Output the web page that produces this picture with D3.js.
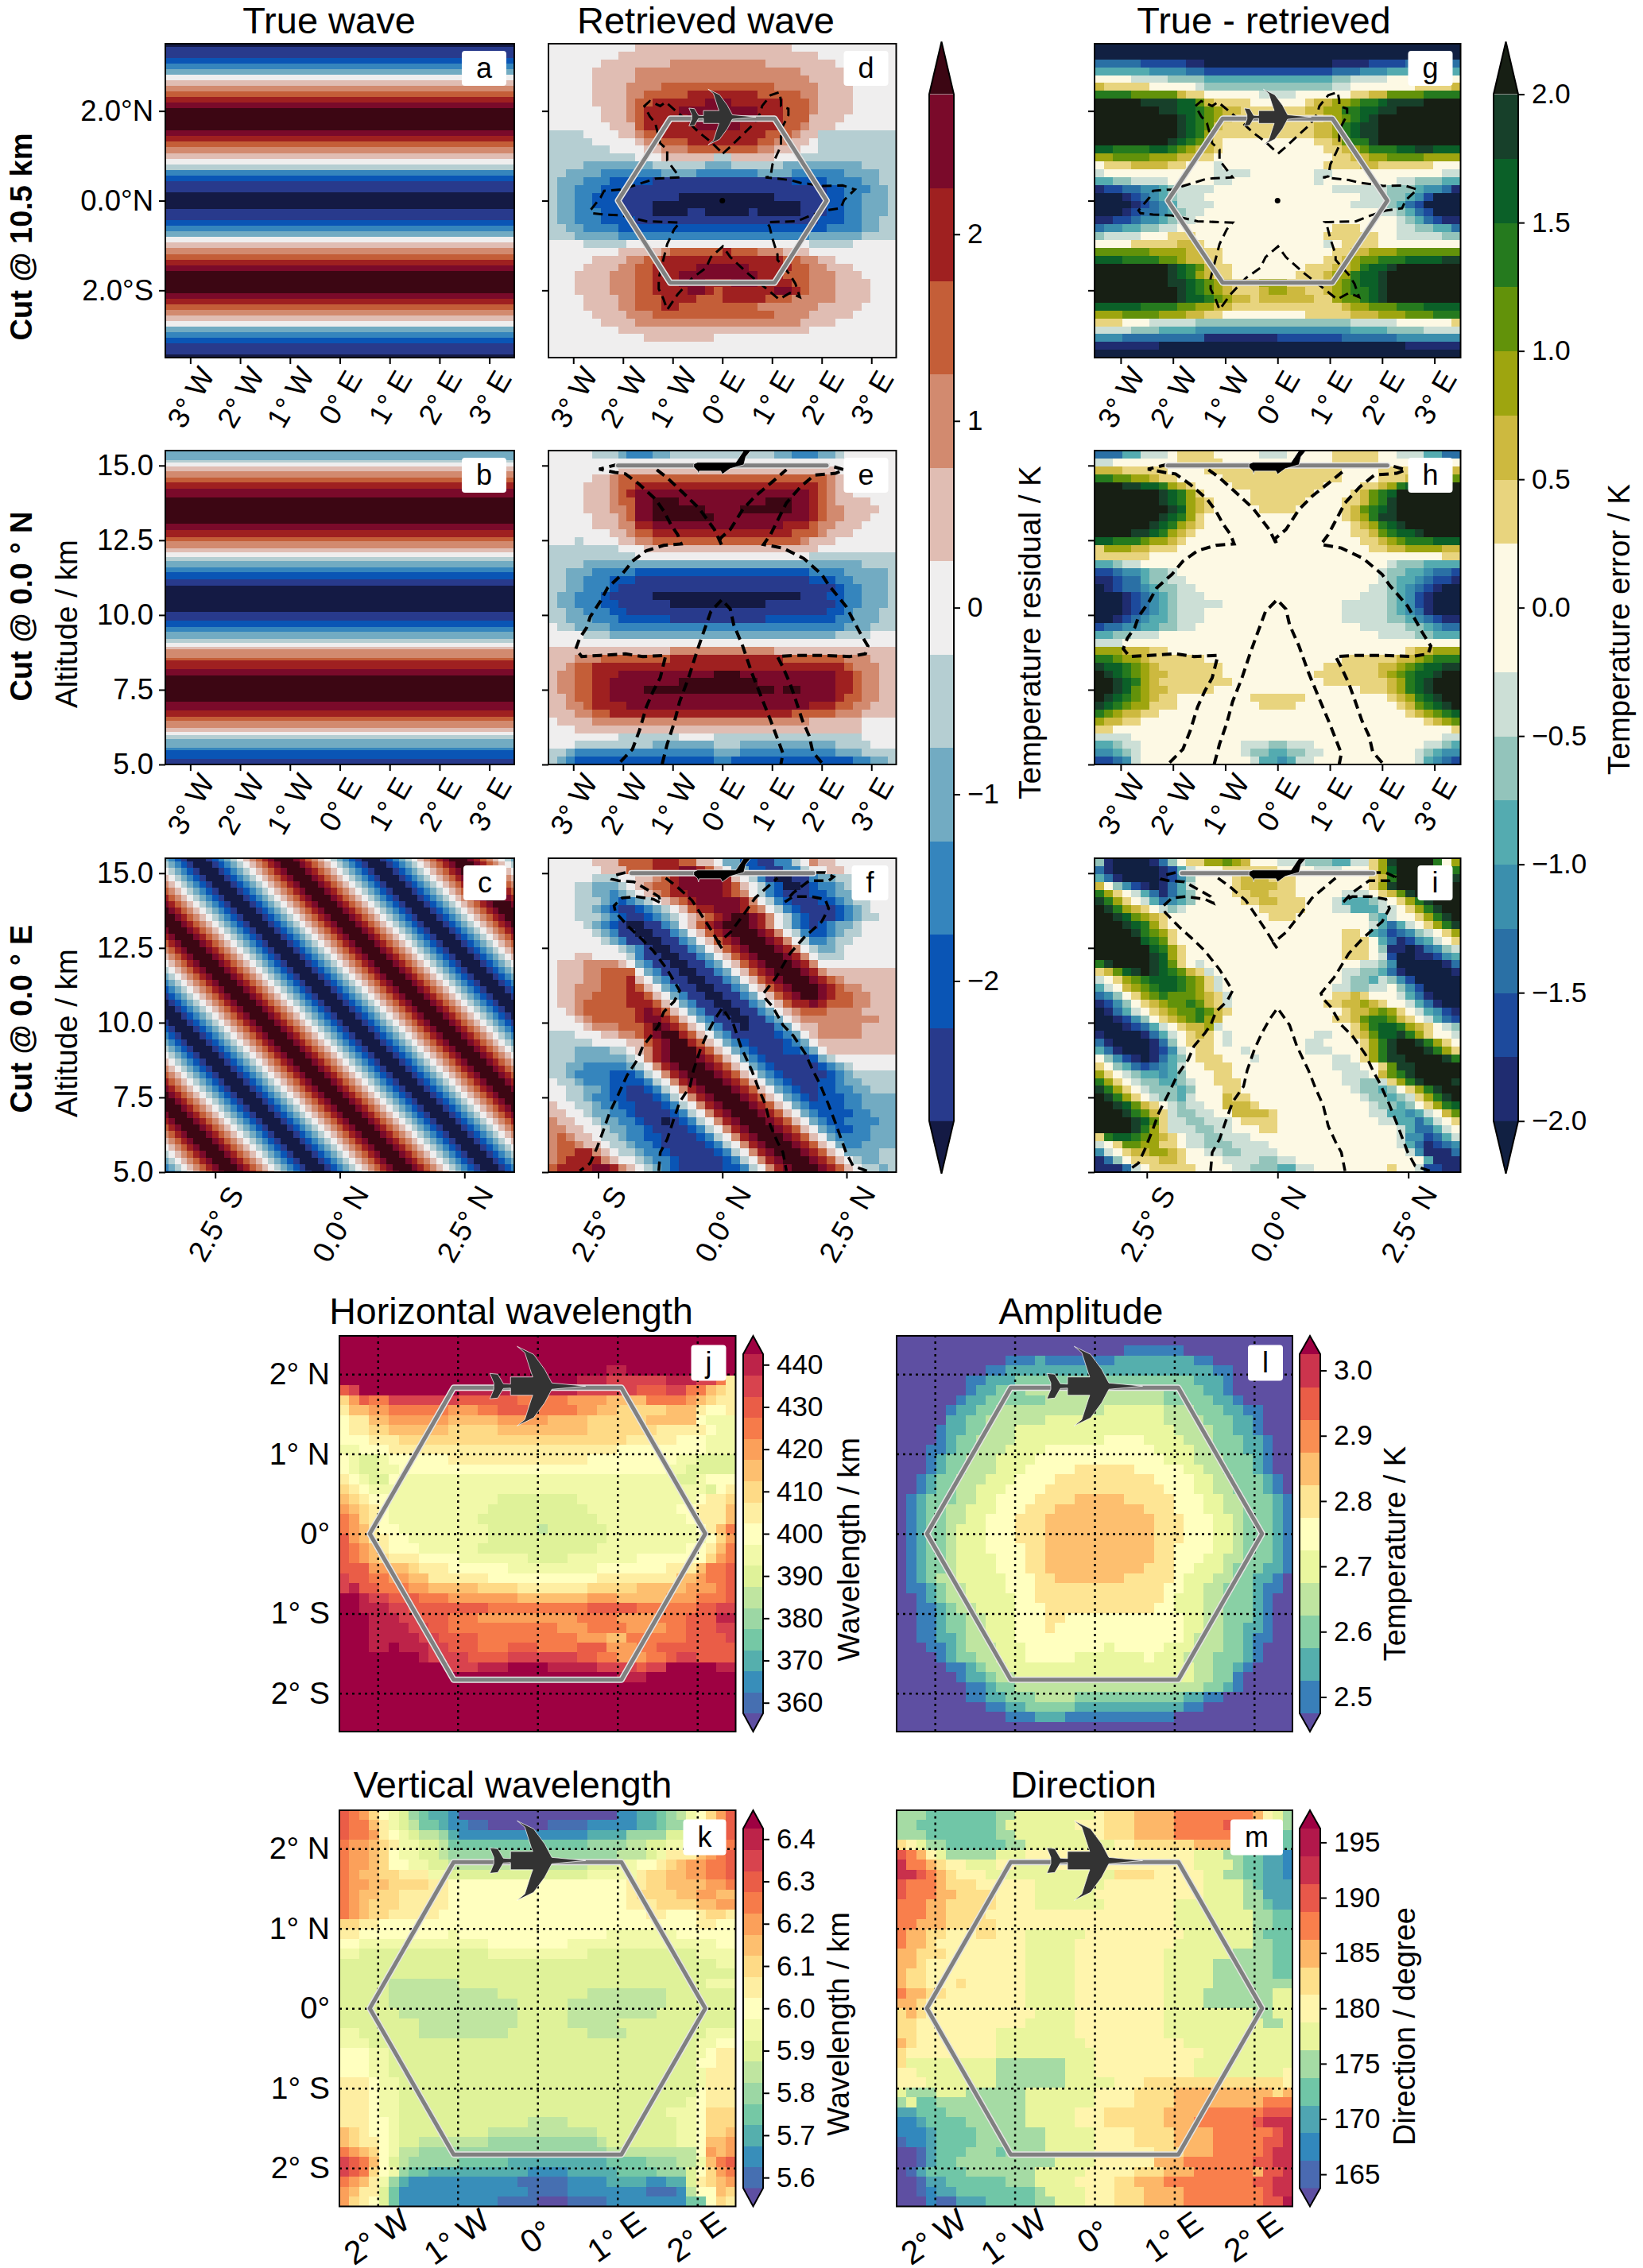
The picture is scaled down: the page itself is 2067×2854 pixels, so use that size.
<!DOCTYPE html>
<html>
<head>
<meta charset="utf-8">
<script src="https://d3js.org/d3.v7.min.js"></script>
<style>
  body { margin: 0; background: #fff; }
  text { font-family: "Liberation Sans", Arial, sans-serif; fill: #000; }
</style>
</head>
<body>
<svg id="fig" width="2067" height="2854"></svg>
<script>
// cells hold one base-36 colour class each. "6:10 7:28 6" = class 6 up to col 10, class 7 up to col 28, then 6
const fieldA = "0 11 234 6789ab cccc ba98765 32 11 000 11 234 6789ab cccc ba9876 432 11 0".replace(/ /g, '').split('')

const bandEdgesB = [15.6,15.18,15.11,14.96,14.82,14.59,14.45,14.22,13.93,13.06,12.83,12.6,12.46,12.23,12.09,11.94,11.8,11.58,11.43,11.2,10.98,10.1,9.81,9.59,9.44,9.21,9.07,8.93,8.85,8.56,8.49,8.19,7.97,7.09,6.82,6.6,6.46,6.23,6.08,5.98,5.84,5.56,5.47,5.18,5]
const bandClassB = "4 5 6 7 8 9 a b c b a 9 8 7 6 5 4 3 2 1 0 1 2 3 4 5 6 7 8 9 a b c b a 9 8 7 6 5 4 3 2 1".split(' ')

const profileC = "23456789abcccba987654321000123456789abcccba987654321000123456789abcccba987654321000123456789abcccba987654321"

const fieldD = ["6:10 7:28 6","6:8 7:31 6","6:6 7:14 8:25 7:33 6","6:5 7:10 8:29 7:34 6","6:5 7:10 8:30 7:35 6","6:5 7:9 8:13 9:26 8:31 7:35 6","6:5 7:9 8:11 9:16 a:24 9:29 8:31 7:35 6","6:5 7:9 8:10 9:12 a:18 b:21 a:27 9:30 8:31 7:35 6","6:6 7:9 8:10 9:11 a:15 b:24 a:27 9:30 8:31 7:35 6","6:6 7:9 8:10 9:11 a:16 b:24 a:27 9:30 7:34 6","6:7 7:10 9:11 a:17 b:22 a:27 9:29 8:30 7:33 6","5:4 6:8 7:10 8:11 9:13 a:25 9:28 8:29 7:31 5","5:5 6:10 7:11 8:13 9:16 a:24 9:26 8:28 7:30 6:31 5","5:7 6:11 7:13 8:16 9:24 8:26 7:29 6:31 5","5:10 6:13 7:19 5:21 7:26 6:29 5","5:4 4:12 5:18 4:21 5:27 4:36 5","5:2 4:6 3:13 4:17 3:24 4:28 3:34 4:38 5","5:1 4:4 3:7 2:12 1:28 2:32 3:36 4:38 5","5:1 4:3 3:6 2:9 1:32 2:34 3:37 4:39 5","5:1 4:3 3:5 2:8 1:15 0:26 1:32 2:34 3:36 4:39 5","5:1 4:3 3:5 2:8 1:12 0:29 1:32 2:34 3:36 4:39 5","5:1 4:3 3:6 2:9 1:12 0:16 1:18 0:23 1:24 0:29 1:32 2:34 3:36 4:39 5","5:1 4:3 3:6 2:10 1:31 2:34 3:36 4:38 5","5:2 4:4 3:8 2:32 3:36 4:38 5","5:3 4:8 3:30 4:36 5","6:4 5:9 6:30 5:35 6","6:8 7:13 8:14 9:20 a:21 9:24 8:27 7:30 6","6:5 7:9 8:11 9:13 a:27 9:29 8:31 7:33 6","6:4 7:8 8:10 9:12 a:17 b:23 a:28 9:30 8:32 7:35 6","6:3 7:7 8:10 9:12 a:15 b:24 a:27 9:30 8:33 7:36 6","6:3 7:7 8:10 9:12 a:15 b:18 a:21 b:24 a:28 9:30 8:33 7:37 6","6:3 7:7 8:10 9:12 a:16 b:18 a:19 9:20 a:26 b:28 a:29 9:30 8:33 7:37 6","6:4 7:8 8:10 9:13 a:17 9:20 a:25 9:28 8:33 7:37 6","6:4 7:8 8:10 9:13 a:15 9:24 8:31 7:36 6","6:5 7:9 8:12 9:26 8:30 7:35 6","6:6 7:10 8:29 7:33 6","6:8 7:30 6","6:11 7:19 6","6","6"]

const fieldE = ["6:5 5:8 4:9 3:12 4:14 5:26 4:28 3:31 4:33 5:34 6","6","6:8 7:33 6","6:5 7:7 8:8 9:32 8:33 7:34 6","6:4 7:7 8:8 9:10 a:31 9:32 8:33 7:34 6","6:4 7:7 8:8 9:9 a:10 b:30 a:31 9:32 8:33 7:35 6","6:4 7:7 8:8 9:10 b:12 c:15 b:25 c:28 b:30 a:31 9:32 8:33 7:37 6","6:4 7:7 8:9 9:10 b:12 c:18 b:22 c:28 b:30 a:31 9:32 8:34 7:38 6","6:5 7:8 8:9 9:10 b:12 c:19 b:30 a:31 9:32 8:34 7:37 6","6:5 7:8 8:10 a:12 b:27 a:30 9:31 8:33 7:36 6","6:7 7:9 8:10 9:12 a:28 9:31 8:32 7:35 6","6:3 5:4 6:8 7:10 8:12 9:29 8:30 7:33 6","5:8 6:11 7:31 6","5:10 6:30 5","5:4 4:36 5","5:2 4:5 3:10 2:30 3:34 4:39 5","5:2 4:4 3:7 2:10 1:30 2:33 3:35 4:39 5","5:2 4:4 3:7 2:8 1:33 2:34 3:36 4:39 5","5:1 4:3 3:6 2:7 1:12 0:29 1:32 2:34 3:36 4:39 5","5:1 4:3 3:6 2:8 1:14 0:25 1:33 2:34 3:36 4:39 5","5:2 4:4 3:7 2:9 1:32 2:34 3:35 4:38 5","5:2 4:5 3:8 2:14 1:25 2:33 3:35 4:38 5","6:1 5:3 4:7 3:34 4:37 5","6:4 5:7 4:33 5:37 6","6","7:14 8:26 7","7:3 8:6 9:14 a:27 9:34 8:37 7","7:2 8:3 9:5 a:34 9:35 8:38 7","7:1 8:3 9:5 a:8 b:19 c:22 b:33 a:35 9:36 8:38 7","7:1 8:3 9:5 a:7 b:15 c:24 b:33 a:35 9:36 8:38 7","7:1 8:3 9:5 a:7 b:11 c:26 b:27 c:29 b:33 a:35 9:36 8:38 7","7:2 8:3 9:5 a:7 b:33 a:34 9:36 8:38 7","7:2 8:4 9:5 a:9 b:30 a:33 9:35 8:37 7","7:3 8:5 9:7 a:28 9:33 8:36 7","6:1 7:5 8:30 7:36 6","6:3 7:36 6","6:8 5:15 6:19 5:36 6","6:3 5:12 4:19 5:22 4:33 5:37 6","5:2 4:3 3:19 4:22 3:33 4:36 5","5:1 4:2 3:3 2:19 3:21 2:35 3:37 4:39 5"]

const fieldF = ["6:5 7:8 9:12 a:15 9:17 7:19 6:20 4:22 2:24 1:26 3:28 5:29 6:30 8:31 7:33 6","6:6 7:9 9:12 a:15 b:17 a:18 9:19 7:20 6:21 4:23 2:25 1:27 3:29 5:30 6:32 7:34 6","6:5 5:8 6:10 7:12 8:13 9:14 a:15 b:20 a:21 7:22 6:23 5:24 3:25 1:26 0:28 1:30 3:31 4:33 5:35 6","6:3 5:5 4:8 5:9 6:10 7:11 8:12 9:14 a:15 b:20 a:21 9:22 7:23 6:24 5:25 3:26 2:27 0:29 1:30 2:31 3:33 4:34 5:35 6","6:3 5:5 4:7 3:8 4:9 5:10 6:11 7:12 8:13 9:14 a:16 b:20 a:21 9:22 8:23 6:24 5:25 3:26 2:27 1:30 2:32 3:33 4:35 5:36 6","6:3 5:6 4:7 3:8 2:9 3:10 4:11 5:12 6:13 7:14 8:15 9:16 a:17 b:22 a:23 8:24 6:25 5:26 3:27 2:28 1:31 2:33 3:34 4:35 5:37 6","6:3 5:5 4:6 3:7 2:8 1:10 2:11 3:12 4:13 5:14 6:15 7:16 9:17 a:19 b:22 a:23 9:24 8:25 6:26 5:27 3:28 2:29 1:33 2:34 3:35 4:36 5:37 6","6:3 5:6 4:7 3:8 2:9 1:11 2:12 3:13 4:14 5:15 6:16 7:17 8:18 9:19 a:20 b:21 c:23 b:24 a:25 8:26 6:27 5:28 3:29 2:30 1:33 2:34 3:35 4:36 5:38 6",
"6666 54321 00 11 34679ab ccc ba86532 123445 6666","66666 54311 0011 34679ab ccc ba86532 23455 6666","666666 54311 0011 34679ab ccc ba865 33455 66666","66666666 5431 0011 34679ab ccc ba865 445 666666","666 77 6666 5311 0011 34679ab ccc ba865 55 666666","6 777 8888 7 6 4311 0011 34679ab ccc ba86 66666666","6 777 88 9999 6 4311 0011 34679ab ccc ba87 7777777","6 777 88 999 a 7 6 4311 0011 34679ab ccc ba98 777777","6 77 888 999 a 9 7 6 4311 0011 34679ab ccc ba98 8 7777","6 77 88 9999 aa 9 7 6 4311 0011 34679ab cc b a 99 88 777","6 77 8 99999 aaa 9 7 6 4311 0011 34679 aa b a 999 88 777","66 7 8 999999 a b a 9 7 6 4311 0011 3467 8 999 8888 7777","666 7 8 99999 a bb a 9 7 6 4311 0011 3467 888888888 77","6666 7 888 999 a c b a 9 7 6 4311 0111 346 77 88888 7777","555 666 77 88 9 a b cc a 9 7 6 4 3 11111 2 3 4 6 7 88888 7777","55555 6666 77 9 a b cc a 9 7 6 4 3 2 1111 2 3 4 6 777777777","555 4444 55 6 7 8 a b ccc a 9 7 6 4 3 2 111 22 3 4 6 77777777","555 444444 5 6 8 a b ccc b a 9 7 6 4 3 2 11111 2 4 5 6666666","55 44 33333 4 5 6 8 a b ccc b a 9 7 6 4 3 2 11111 2 3 4 5 66666","55 4 3333 222 3 5 6 8 a b ccc b a 9 7 6 4 3 2 11111 2 3 4 55555","6 55 4 333 2222 3 5 6 8 a b ccc b a 9 7 6 4 3 2 111 22 3 44 5555","66 55 44 3 22 11 2 3 5 6 8 a b ccc b a 9 7 6 4 3 2 11 22 33 44 555","66 55 4 33 22 111 2 3 5 6 8 a b ccc b a 9 7 6 4 3 2 1 222 33 4444","7 66 55 4 33 22 111 2 3 5 6 8 a b ccc b a 9 7 6 4 3 2222 33 4444","77 66 5 44 33 2 1111 2 3 5 6 8 a b ccc b a 9 7 6 4 3 2222 33 444","8 77 66 5 44 33 2 11 0 1 2 3 5 6 8 a b ccc b a 9 7 6 4 3 22 3333 44","88 77 66 5 44 33 2 1111 2 3 5 6 8 a b ccc b a 9 7 6 4 3 22 33 444","8 9 8 77 6 55 4 33 22 1111 2 3 5 6 8 a b ccc b a 9 7 6 4 3333 444","8 99 8 77 6 55 4 33 2 11111 2 3 5 6 8 a b ccc b a 9 7 6 4 33 4444","8 99 aa 8 7 6 55 4 33 2 11111 2 3 5 6 8 a b ccc b a 9 7 6 4444 55","8 9 aaaa 8 7 66 5 4 33 2 11111 2 3 5 6 8 a b ccc b a 9 7 6 5 44 55","9 aaaa bb a 8 7 6 5 4 3 2 11111 22 3 5 6 8 a b ccc b a 9 7 6 55 4 5"]

const fieldG = ["0","0","3:5 2:10 1:12 0:26 1:30 2:34 3","5:6 4:10 3:12 2:26 3:29 4:32 5","8:4 7:8 6:12 5:26 6:28 7:32 8","b:1 a:6 8:11 7:12 6:26 7:28 8:35 a:39 b","e:4 d:9 b:10 a:12 8:18 7:22 8:28 a:30 b:32 d:36 e","h:5 g:9 f:11 d:12 b:13 a:17 8:23 a:24 b:26 c:28 d:29 e:31 f:32 g:36 h","h:7 g:9 f:11 e:12 d:13 c:14 b:16 a:23 b:25 c:27 e:29 f:31 g:33 h","h:9 g:10 f:11 e:12 d:13 c:14 b:15 a:18 b:20 a:25 b:26 c:27 d:28 e:29 f:30 g:31 h","h:9 g:10 f:11 e:12 d:13 b:14 a:24 b:26 c:27 e:28 f:29 g:31 h","h:9 g:10 f:11 e:12 c:13 a:24 b:26 c:27 e:28 f:29 g:31 h","h:8 g:9 f:10 e:11 d:12 b:13 a:14 8:24 a:26 b:27 d:28 e:30 g:31 h","f:2 e:6 f:8 e:9 d:10 c:11 b:13 a:14 8:25 a:27 b:28 c:29 d:30 e:33 f:35 g:37 f","c:2 d:6 c:9 b:11 a:13 8:26 a:28 b:30 c:32 d:36 c","8:1 a:4 b:8 a:10 8:13 7:14 8:25 a:29 b:31 a:37 8","7:1 8:13 7:17 8:24 7:26 8:38 7","5:2 6:4 7:8 8:13 7:15 8:24 7:25 8:33 7:35 6:38 5","1:1 2:3 3:5 4:7 5:8 6:9 7:13 8:26 7:32 6:35 5:36 4:38 3:39 1","0:3 1:4 2:5 3:6 4:7 5:8 6:9 7:12 8:29 7:32 6:34 5:35 4:36 2:37 0","0:4 1:5 2:6 3:7 4:8 5:9 7:13 8:28 7:32 6:33 5:34 3:35 2:36 0","0:3 1:4 2:5 3:7 4:8 5:9 6:10 7:12 8:31 7:33 6:34 5:35 3:36 2:37 0","1:2 2:4 3:5 4:7 5:8 6:9 7:11 8:33 7:34 6:35 5:36 3:37 2:38 1","3:1 4:3 5:5 6:7 7:9 8:26 a:29 8:33 7:35 6:37 5:39 3","6:1 7:5 8:8 a:11 8:25 a:31 8:33 7:38 6","8:4 a:9 b:11 a:12 8:25 7:26 8:27 a:31 8","d:6 c:10 b:12 a:14 8:26 a:28 b:30 c:33 d","f:3 e:7 d:9 c:10 b:12 a:14 8:25 a:27 b:28 c:29 d:31 e:34 f:38 g","h:8 g:9 f:10 e:11 d:12 b:13 a:15 8:23 a:26 b:28 c:29 e:30 f:32 g:33 h","h:8 g:9 f:10 e:11 c:12 b:13 a:15 8:22 a:25 b:26 c:28 e:29 f:31 g:32 h","h:8 g:10 f:11 e:12 d:13 c:14 b:15 a:18 c:21 a:25 b:26 c:27 d:28 e:29 f:31 g:32 h","h:9 g:10 f:11 e:12 d:13 c:14 b:15 a:18 b:19 c:21 b:23 a:25 b:26 c:27 d:28 e:30 f:31 g:32 h","h:9 g:10 f:12 e:13 d:14 c:15 b:17 a:18 b:24 a:26 c:27 d:29 e:30 f:31 g:32 h","f:5 e:9 d:11 c:13 b:15 a:27 b:28 c:30 d:33 e:36 f","c:3 d:7 c:10 b:12 a:14 8:23 a:28 b:31 c:34 d:37 e","a:3 8:6 7:11 6:28 7:33 8:39 a","7:4 6:7 5:11 4:28 5:32 6:36 7","4:3 3:12 1:20 2:27 3:33 4","1:7 0:34 1","0"]

const fieldH = ["3:3 5:5 7:8 8:9 a:13 8:18 7:21 8:26 a:31 8:33 7:36 5:38 3","7:2 8:9 a:14 8:26 a:31 8","b:3 a:8 8:12 a:27 8:31 a:36 b","e:2 d:4 c:6 b:7 a:9 8:14 a:27 8:31 a:34 b:35 c:37 d","h:3 g:5 f:7 e:8 c:9 b:10 a:11 8:15 a:25 8:29 a:31 b:32 c:33 e:34 f:36 g:37 h","h:7 g:8 f:9 e:10 c:11 a:12 8:17 a:24 8:28 a:29 b:30 d:31 e:32 f:33 h","h:7 g:8 f:9 e:10 c:11 b:12 a:13 8:17 a:23 8:27 a:29 b:30 d:31 e:32 g:33 h","h:8 g:9 f:10 c:11 b:12 a:13 8:18 a:22 8:27 a:28 b:29 d:30 e:31 f:32 g:33 h","h:7 g:8 f:9 e:10 c:11 a:12 8:27 a:28 b:29 c:30 e:31 g:33 h","h:6 g:7 f:8 e:9 c:10 b:11 a:12 8:28 a:29 b:30 c:31 e:32 f:33 g:34 h","h:4 g:6 f:7 e:8 c:9 b:10 a:11 8:28 a:30 b:31 d:32 e:33 f:35 g:36 h","f:2 e:5 d:6 c:8 b:9 a:10 8:29 a:31 b:32 c:33 d:34 e:37 f","a:1 c:4 b:6 a:9 8:30 a:32 b:34 c:38 b","a:6 8:38 a","5:2 6:3 7:5 8:32 7:33 6:36 5","2:2 3:3 4:5 5:6 6:8 7:9 8:31 7:32 6:34 5:36 4:37 3:39 2","1:2 2:3 3:5 5:6 6:8 7:10 8:31 7:32 6:33 5:35 4:36 3:37 2:39 1","0:1 1:2 2:3 3:5 4:6 5:7 6:9 7:11 8:30 7:32 6:33 5:34 4:35 3:36 2:37 1:38 0","0:3 1:4 2:5 3:6 4:7 5:8 6:9 7:12 8:29 7:32 6:33 5:34 4:35 2:36 1:37 0","0:3 1:4 2:5 3:6 4:7 5:8 6:9 7:14 8:27 7:32 6:33 5:34 4:35 2:36 1:37 0","0:3 1:4 2:5 3:6 4:7 5:8 6:9 7:12 8:27 7:32 6:33 5:34 4:35 3:36 1:37 0","0:2 1:3 2:4 3:5 4:6 5:8 6:9 7:12 8:27 7:32 6:34 5:35 4:36 3:37 2:38 1","2:1 3:3 4:5 5:7 6:9 7:11 8:29 7:34 6:36 5:37 4:38 3","5:2 6:4 7:7 8:31 7:35 6:37 5","7:3 8","c:3 b:6 a:8 8:34 a:35 b:37 c","e:2 d:3 c:5 b:6 a:12 8:27 a:33 b:35 c:36 d:37 e","g:1 f:3 e:4 d:5 c:6 b:7 a:14 8:25 a:31 b:33 c:34 d:35 e:36 f:38 g","h:1 g:2 f:3 e:4 d:5 c:6 b:8 a:14 8:24 a:31 b:32 c:33 d:34 e:35 f:37 g:38 h","h:2 g:3 f:4 e:5 c:6 b:7 a:15 8:25 a:32 b:33 c:34 e:35 f:36 g:37 h","h:2 g:3 f:4 d:5 c:6 b:8 a:13 8:29 a:32 b:33 c:34 e:35 f:36 g:37 h","h:1 g:2 f:3 e:4 d:5 c:6 b:7 a:9 8:17 a:23 8:32 a:33 b:34 c:35 e:36 f:37 g:38 h","g:1 f:2 e:3 d:4 c:6 a:9 8:18 a:22 8:33 a:34 b:35 d:36 e:37 f:38 g:39 h","e:1 d:2 c:3 b:5 a:7 8:34 a:35 b:36 c:37 d:38 e:39 f","c:1 b:3 a:5 8:36 a:37 b:38 c:39 d","a:2 8:39 a","7:4 8:38 7","5:2 6:3 7:5 8:16 7:19 6:21 7:24 8:36 7:38 6:39 5","4:2 5:3 6:4 7:5 8:16 7:17 6:19 5:21 6:23 7:25 8:35 7:36 6:37 5:38 4","2:2 3:3 4:4 7:5 8:17 7:18 5:20 4:21 5:22 7:24 8:35 7:36 5:37 4:38 3:39 2"]

const fieldI = ["6:1 1:2 0:6 1:7 3:8 6:9 8:10 a:12 c:14 d:15 c:16 b:17 8:20 7:23 6:26 5:28 7:30 a:31 c:32 g:33 h:37 e:38 8:39 c","3:1 1:2 0:7 1:8 2:9 5:10 7:11 8:14 a:20 8:24 7:27 8:30 a:31 c:32 f:33 h:38 g:39 e","5:1 3:2 1:3 0:7 1:8 2:9 4:10 6:11 8:15 a:16 b:19 a:22 8:30 a:31 b:32 e:33 h:39 g","b:1 8:2 6:3 4:4 2:5 1:6 0:7 1:8 3:9 5:10 7:11 8:15 a:16 b:20 a:22 8:30 a:31 c:32 g:33 h","e:1 c:2 a:3 8:4 7:5 5:6 3:7 1:8 3:9 5:10 6:11 8:15 a:17 b:19 a:22 8:27 7:30 8:31 a:32 b:33 d:34 g:35 h","g:1 e:2 c:3 a:4 8:5 7:6 5:7 3:8 4:9 5:10 6:11 8:16 a:18 b:20 a:23 8:26 7:27 5:30 6:31 7:32 8:33 a:34 c:35 e:36 g:37 h","h:1 g:2 e:3 c:4 b:5 a:6 8:7 7:8 6:9 7:10 8:18 a:23 8:26 7:28 5:31 7:33 8:34 a:35 c:36 e:37 g:38 h","h:2 g:3 f:4 d:5 c:6 b:7 a:8 8:19 a:22 8:30 6:31 5:32 7:33 8:35 a:36 c:37 e:38 g:39 h","h:3 g:4 f:5 e:6 c:7 a:8 8:30 7:31 5:32 3:33 5:34 7:35 8:36 a:37 c:38 e:39 g","h:4 g:5 e:6 d:7 c:8 a:9 8:27 a:29 8:30 5:31 4:32 2:33 3:34 4:35 6:36 7:37 8:38 a:39 c","h:5 f:6 e:7 d:8 a:9 8:27 a:30 8:31 5:32 3:33 1:34 2:35 4:36 5:37 7:38 8:39 a","h:6 f:7 e:8 c:9 a:10 8:27 a:30 8:31 6:32 1:34 0:35 1:36 3:37 4:38 6:39 7","h:6 g:7 f:8 c:9 a:10 8:27 a:30 8:31 7:32 2:33 0:35 1:37 2:38 4:39 5","e:1 g:2 h:6 g:7 f:8 d:9 a:10 8:11 7:12 8:29 7:31 6:32 4:33 0:38 1:39 3","a:1 b:2 d:3 f:4 g:5 h:6 g:7 f:8 e:9 d:10 b:11 a:12 7:13 8:27 7:29 6:31 5:32 3:33 1:34 0:39 1","7:1 8:2 a:3 c:4 d:5 e:6 f:9 e:10 d:11 c:12 a:13 7:14 8:27 7:28 6:30 5:31 7:32 6:33 4:34 2:35 0","5:1 7:2 8:3 b:4 c:5 d:6 e:7 f:9 e:10 d:11 c:12 a:13 7:14 8:26 7:28 6:30 7:32 8:33 6:34 4:35 2:36 0","3:1 4:2 6:3 8:4 a:5 c:6 d:7 e:8 d:11 c:12 b:13 a:14 7:15 8:26 a:28 b:29 a:30 8:33 7:34 5:35 3:36 1:37 0","1:1 2:2 4:3 6:4 8:5 a:6 b:7 c:8 d:10 e:11 d:12 b:13 a:14 7:15 8:25 a:27 b:29 c:30 b:31 a:32 8:34 7:35 5:36 3:37 1:38 0","0:1 1:2 3:3 5:4 7:5 8:6 a:7 b:8 c:9 d:11 e:12 d:13 b:14 a:15 8:27 a:28 b:30 c:31 d:32 c:33 a:34 8:35 7:36 5:37 4:38 2:39 1","0:2 1:3 2:4 4:5 6:6 8:7 a:8 b:9 c:10 d:11 e:12 c:13 b:14 8:26 a:28 b:29 d:30 e:32 d:33 b:34 a:35 8:36 7:37 5:38 3:39 2","0:3 1:4 2:5 3:6 5:7 7:8 8:9 a:10 b:12 c:13 7:14 8:28 a:29 c:30 e:31 f:33 e:34 c:35 b:36 a:37 8:38 7:39 6","1:1 0:5 1:6 3:7 5:8 7:9 8:10 a:11 b:12 a:13 8:14 7:15 8:24 7:26 8:28 a:29 b:30 d:31 f:33 g:34 e:35 c:36 a:37 8:39 7","3:1 1:2 0:6 1:7 3:8 6:9 8:10 a:13 8:14 7:15 8:23 7:25 8:29 a:30 c:31 e:32 g:33 h:35 g:36 e:37 c:38 a:39 8","5:1 3:2 1:3 0:6 1:7 2:8 4:9 7:10 8:11 a:13 8:16 7:17 8:23 7:26 8:29 a:30 c:31 e:32 g:33 h:36 g:37 e:38 c:39 a","8:1 6:2 4:3 2:4 1:5 0:6 1:7 3:8 5:9 6:10 8:11 a:14 8:17 7:18 8:26 7:28 8:29 a:30 c:31 e:32 g:34 h:38 g:39 e","a:1 8:2 6:3 5:4 3:5 2:6 3:7 4:8 5:9 7:10 8:12 a:15 8:26 7:29 8:31 a:32 d:33 g:35 h","c:1 a:2 8:3 7:4 6:5 5:7 4:8 5:9 6:10 8:13 a:15 8:27 7:30 8:31 b:32 d:33 e:34 g:35 h","e:1 c:2 a:3 8:4 7:5 6:7 5:9 6:10 7:11 8:13 a:16 8:27 7:29 6:31 7:32 a:33 c:34 e:35 g:36 h:39 g","g:1 e:2 c:3 a:4 8:5 7:6 6:9 5:10 6:11 8:14 a:16 8:28 7:29 6:31 5:32 6:33 8:34 a:35 c:36 e:37 g:38 h","h:1 g:2 e:3 c:4 a:5 8:6 7:7 6:9 5:10 7:11 8:14 b:15 a:17 8:29 7:30 6:32 5:33 6:34 7:35 a:36 c:37 e:38 g:39 h","h:2 g:3 f:4 d:5 b:6 a:7 8:8 7:9 6:10 7:12 8:14 b:17 a:18 8:30 7:31 6:33 5:34 6:35 8:36 a:37 c:38 e:39 f","h:3 g:4 e:5 d:6 b:7 a:8 7:9 6:11 7:13 8:15 b:19 a:20 8:30 7:32 5:34 4:35 5:36 7:37 8:38 b:39 d","h:4 g:5 f:6 d:7 a:8 7:10 6:12 7:15 8:16 a:20 8:31 7:33 5:35 3:36 5:37 7:38 8:39 a","h:4 g:5 e:6 c:7 a:8 7:11 6:13 7:15 8:18 a:20 8:33 7:34 5:35 3:37 5:38 7:39 8","a:1 e:2 f:4 e:5 d:6 c:7 b:8 a:9 8:10 7:12 6:14 7:17 8:33 7:34 4:36 2:37 3:38 5:39 7","7:1 8:2 a:3 d:5 c:7 a:9 8:10 7:12 6:15 7:19 8:33 7:34 5:35 3:36 1:37 2:38 3:39 4","4:1 7:2 8:3 a:4 b:6 c:8 b:9 a:10 8:12 7:14 6:16 7:20 8:34 7:35 4:36 1:39 3","1:1 3:2 6:3 8:4 a:7 b:9 a:10 8:14 7:18 6:20 7:22 8:36 5:37 1","1:3 3:4 7:5 8:6 a:11 8:15 7:17 6:20 5:22 7:24 8:32 a:33 8:35 7:36 2:38 1"]

const fieldJ = ["i","i","i","i:27 h:29 i","i:24 h:27 g:33 h:36 g:38 e:39 a","f:1 g:2 i:12 h:24 g:30 f:33 g:35 e:37 c:38 b:39 a","b:1 d:2 f:3 e:5 g:12 f:18 e:23 d:27 c:31 e:35 d:36 c:37 b:38 a","a:1 c:3 d:5 e:11 d:14 e:16 f:19 e:24 d:26 c:28 b:33 c:36 a:37 9:39 a","9:1 a:3 c:5 d:11 c:16 d:21 c:25 b:31 c:36 9:37 8","9:1 a:3 b:5 c:11 b:16 c:25 b:32 a:37 9:38 8","9:3 a:6 b:29 a:34 9:37 8","8:2 9:5 a:28 9:37 8","9:1 8:2 7:4 8:5 9:11 a:25 9:34 8:36 7","9:1 8:2 7:4 8:6 9:33 8:35 7","a:1 9:2 8:3 7:5 9:6 8:34 7:36 8:37 9","b:1 a:2 9:3 8:37 7:38 9:39 a","c:1 b:2 a:3 9:5 8:16 7:24 8:36 9:37 a:39 b","d:1 c:2 b:3 a:4 9:5 8:15 7:25 8:34 9:36 a:39 c","e:1 d:2 b:3 a:4 9:5 8:14 7:26 8:35 9:36 a:39 c","e:1 d:2 c:3 a:4 9:6 8:15 7:20 6:21 7:27 8:36 9:37 a:38 c:39 e","f:1 d:2 c:3 a:5 9:7 8:15 7:27 8:37 9:38 b:39 d","f:1 e:2 d:3 c:4 a:5 9:8 8:14 7:26 8:35 9:37 a:38 c:39 e","f:1 e:2 d:3 c:4 b:5 a:8 9:12 8:19 7:23 8:30 9:37 b:38 d:39 e","f:3 d:5 c:7 b:8 a:11 9:17 8:26 9:33 a:36 c:37 e:39 f","g:1 f:3 e:5 d:7 c:9 a:15 9:26 a:34 c:36 d:37 e:39 f","g:1 h:2 f:4 e:7 d:9 c:14 b:18 a:25 b:30 c:35 d:38 e:39 f","i:2 h:3 g:5 f:8 e:11 d:18 c:25 d:28 c:33 d:36 e:39 f","i:2 h:5 g:7 f:15 e:25 f:30 e:36 f:38 g","i:3 h:6 g:8 f:11 e:14 d:24 e:28 d:32 e:35 f:38 h","i:3 h:7 g:9 f:11 e:22 d:25 e:29 d:33 e:35 f:38 g","i:3 h:8 g:10 f:14 e:24 d:27 c:29 e:35 f:39 g","i:3 h:5 i:6 h:9 g:11 f:14 e:17 f:20 e:24 f:27 d:30 e:32 f","i:8 h:9 g:13 f:17 g:24 f:26 e:28 d:31 e:33 f:34 g:36 f","i:11 g:14 h:17 i:21 h:26 g:30 f:31 g:33 i:38 h","i:28 h:31 i","i","i","i","i","i"]

const fieldK = ["f:1 e:2 d:3 b:4 9:5 8:6 7:7 5:8 4:9 3:11 2:12 0:28 2:30 3:32 4:33 5:34 6:35 8:36 9:37 b:38 d:39 f","f:1 e:3 c:4 a:5 8:6 7:7 6:8 4:10 3:11 2:13 1:15 0:21 1:25 2:30 3:32 4:33 5:35 7:36 8:37 9:38 c:39 f","f:1 e:3 d:4 a:5 9:6 8:7 7:8 6:10 5:11 3:12 2:25 3:29 5:33 7:35 8:36 9:37 b:38 d:39 f","e:1 d:3 c:4 b:5 a:6 8:8 7:10 6:11 4:25 5:29 6:31 7:33 8:36 9:37 b:39 e","e:1 d:3 c:4 b:5 9:6 8:8 7:10 6:11 5:28 6:31 7:32 8:33 a:36 c:37 d:38 e:39 f","e:1 d:3 c:4 b:5 9:7 8:9 7:11 6:25 7:28 8:30 9:32 a:33 b:34 c:35 d:37 e:39 f","e:1 d:2 c:4 b:6 a:9 8:11 7:25 8:30 a:31 b:33 c:35 d:37 e:39 f","e:1 d:3 c:5 b:9 a:11 9:29 a:31 b:33 c:37 d:39 e","e:1 d:2 c:4 b:6 a:11 9:29 a:30 b:34 c:36 d:38 c","e:1 d:2 c:3 b:6 a:11 9:29 a:32 b:36 c:38 d","e:1 d:2 c:3 b:5 a:10 9:31 a:33 9:36 a:37 b:39 a","b:2 a:4 9:36 a:38 9","a:2 9:11 8:12 9:27 8:34 9","9:2 8:15 9:21 8:21 9:23 8:38 9","8:2 7:15 8:25 7:36 8","7:38 8","7","7:5 6:12 7:37 8","7:5 6:16 7:25 6:33 7","7:5 6:18 7:23 6:33 7","7:6 6:18 7:23 6:32 7","7:8 6:18 7:23 6:28 7","8:2 7:8 6:17 7:25 6:29 7:37 8","8:3 7:36 8:38 9","9:3 8:5 7:36 8:37 9:38 a","9:3 8:5 7:36 9:38 a","9:3 8:5 7:36 8:37 a","a:3 9:4 8:6 7:36 8:37 a","a:3 9:4 8:6 7:36 9:37 a","a:3 9:4 8:6 7:35 8:36 9:37 a","a:3 9:4 8:6 7:33 8:36 9:37 b","a:3 9:5 8:6 7:19 6:23 7:34 8:36 9:37 b","c:1 b:2 a:3 9:5 8:6 7:15 6:26 7:34 8:36 9:37 b:39 c","c:1 b:2 a:4 9:5 8:6 7:8 6:15 5:26 6:27 7:34 8:36 9:37 c:39 d","e:1 d:2 c:3 b:4 9:5 8:6 6:8 5:27 6:36 9:37 d:38 c:39 d","g:1 f:2 e:3 c:4 9:5 7:6 6:7 5:12 4:17 3:27 4:31 5:34 6:36 8:37 c:38 e:39 f","g:1 f:2 e:3 b:4 9:5 8:6 5:7 4:9 3:19 2:23 3:28 4:32 5:35 7:36 9:37 b:38 d:39 e","e:1 d:2 c:3 a:4 8:5 5:6 3:7 2:18 1:23 2:27 3:31 2:33 3:35 7:36 a:37 b:38 c:39 d","d:1 c:2 a:4 7:5 4:6 2:19 1:23 2:31 1:34 2:35 6:36 9:38 c:39 b","d:1 b:2 a:3 9:4 7:5 4:6 2:16 1:20 0:23 1:27 2:35 4:37 9:38 b:39 a"]

const fieldL = ["0","0:23 1:29 0","0:11 1:14 2:15 1:22 2:30 1:32 0","0:9 1:11 2:32 1:34 0","0:7 1:9 2:12 3:30 2:33 1:34 0","0:7 1:8 2:10 3:13 4:27 3:31 2:33 1:34 0","0:6 1:7 2:9 3:15 4:27 3:32 2:34 1:35 0","0:5 1:6 2:8 3:10 4:21 5:27 4:30 3:33 2:35 1:37 0","0:5 2:7 3:9 4:15 5:27 4:31 3:34 2:36 1:37 0","0:4 1:5 2:7 3:9 4:12 5:28 4:32 3:34 2:36 1:37 0","0:4 1:5 2:6 3:8 4:12 5:21 6:25 5:29 4:32 3:35 2:37 1:38 0","0:3 1:5 2:6 3:8 4:11 5:15 6:26 5:30 4:32 3:35 2:37 1:38 0","0:3 1:4 2:5 3:7 4:10 5:14 6:27 5:30 4:33 3:36 2:37 1:38 0","0:3 1:4 2:5 3:7 4:10 5:13 6:18 7:24 6:29 5:31 4:33 3:36 2:37 1:38 0","0:2 1:3 2:4 3:6 4:9 5:12 6:16 7:26 6:30 5:32 4:34 3:37 2:38 1:39 0","0:2 1:3 2:4 3:6 4:8 5:11 6:15 7:27 6:30 5:32 4:34 3:37 2:38 1:39 0","0:1 1:2 2:3 3:6 4:8 5:10 6:14 7:18 8:23 7:28 6:31 5:33 4:35 3:38 2:39 1","0:1 1:2 2:3 3:5 4:7 5:10 6:13 7:16 8:25 7:28 6:31 5:33 4:35 3:38 2:39 1","0:1 1:2 2:3 3:5 4:7 5:9 6:12 7:15 8:26 7:29 6:32 5:34 4:35 3:38 2:39 1","0:1 1:2 2:3 3:5 4:6 5:9 6:12 7:15 8:26 7:29 6:32 5:34 4:35 3:38 2:39 1","0:1 1:2 2:3 3:5 4:6 5:9 6:12 7:15 8:26 7:29 6:32 5:34 4:35 3:38 2:39 1","0:1 1:2 2:3 3:5 4:6 5:9 6:13 7:15 8:26 7:28 6:32 5:34 4:35 3:38 2:39 1","0:1 1:2 2:3 3:5 4:6 5:10 6:13 7:15 8:26 7:28 6:31 5:33 4:35 3:38 2:39 1","0:1 1:2 2:3 3:5 4:6 5:10 6:13 7:15 8:25 7:28 6:30 5:33 4:34 3:37 2:39 1","0:1 1:2 2:3 3:4 4:6 5:11 6:14 7:16 8:23 7:28 6:29 5:32 4:34 3:36 2:38 1:39 0","0:1 1:3 2:4 3:5 4:7 5:11 6:14 7:27 6:29 5:31 4:33 3:36 2:37 1:39 0","0:2 1:3 2:4 3:5 4:7 5:12 6:14 7:27 6:28 5:31 4:33 3:36 2:37 1:38 0","0:2 1:4 2:5 3:6 4:8 5:12 6:15 7:26 6:28 5:31 4:33 3:36 2:37 1:38 0","0:2 1:4 2:5 3:7 4:9 5:12 6:15 7:17 6:29 5:31 4:33 3:36 2:37 1:38 0","0:2 1:4 2:5 3:7 4:9 5:12 6:15 7:16 6:29 5:31 4:33 3:35 2:37 1:38 0","0:2 1:4 2:6 3:7 4:9 5:12 6:29 5:30 4:33 3:35 2:36 1:38 0","0:3 1:5 2:6 3:7 4:10 5:13 6:21 5:22 6:27 5:30 4:33 3:35 2:36 1:37 0","0:4 1:5 2:6 3:8 4:10 5:13 6:18 5:25 6:26 5:29 4:32 3:35 2:36 1:37 0","0:5 1:7 2:8 3:9 4:11 5:30 4:32 3:34 2:35 1:36 0","0:6 1:7 2:9 3:10 4:12 5:30 4:32 3:34 1:35 0","0:7 1:9 2:10 3:12 4:31 3:33 2:34 1:35 0","0:7 1:9 2:11 3:14 4:18 3:29 2:31 1:33 0","0:9 1:11 2:13 3:18 2:29 1:31 0","0:11 1:14 2:17 1:28 0","0"]

const fieldM = ["5:3 4:10 5:12 6:20 7:21 8:24 9:28 a:36 9:37 7:38 6:39 5","5:2 4:10 5:11 6:18 7:21 8:24 9:28 a:33 b:35 8:38 6:39 5","5:3 4:10 5:12 6:19 7:21 8:24 9:28 a:34 9:36 6:38 5:39 4","8:1 7:2 6:3 5:5 4:11 5:13 6:22 7:24 8:30 9:36 6:37 5:39 4","b:1 a:2 9:3 7:4 6:5 5:10 6:13 7:30 6:33 5:35 4:37 3:39 2","c:1 a:3 9:4 8:5 7:7 6:10 7:12 6:16 7:30 6:34 5:35 4:37 3:39 2","c:2 b:3 a:4 9:5 8:6 7:9 6:22 8:26 7:31 6:33 5:35 4:37 3:39 2","b:1 a:4 9:5 8:8 7:14 6:21 7:31 6:35 5:36 4:37 3","b:1 a:4 9:6 8:10 7:14 6:20 7:31 6:35 5:37 3","a:3 9:5 8:10 7:14 6:21 7:28 6:35 5:37 4:38 3","a:3 9:5 8:9 7:28 6:36 5:38 4","a:2 9:5 8:10 7:28 6:36 5:38 4","a:1 9:3 8:5 7:8 8:10 7:13 6:19 7:29 6:36 5:37 4","a:1 9:3 8:4 7:13 6:18 7:28 6:36 5:38 4","9:2 8:5 7:13 6:18 7:27 6:34 5:38 4","9:2 8:3 7:13 6:18 7:27 6:32 5:38 4","9:1 8:3 7:13 6:18 7:27 6:32 5:38 4","9:1 8:3 7:6 8:7 7:13 6:18 7:27 6:32 5","a:1 9:3 8:5 7:13 6:18 7:27 6:31 5:38 6","9:2 8:3 7:13 6:18 7:27 6:31 5:38 6","8:1 9:2 8:3 7:14 6:18 7:27 6:36 5:38 6","8:2 7:13 6:18 7:27 6:37 5:39 6","8:2 7:10 6:18 7:27 6","9:1 8:2 7:10 6:19 7:29 6","8:1 7:10 6:20 7:31 6","8:1 6:10 5:17 6:20 7:30 6","7:2 6:10 5:17 6:20 7:30 6:39 7","7:3 6:10 5:17 6:22 7:25 8:39 7","6:1 5:4 6:7 5:13 6:20 7:24 8:28 9:38 8:39 9","5:1 6:2 4:4 5:13 6:20 7:24 8:28 9:37 a","3:2 4:5 5:13 6:18 7:21 8:27 9:31 a:37 b","2:2 3:3 4:7 5:13 6:18 7:21 8:27 9:30 a:36 b:37 c","2:3 3:4 4:8 5:15 6:20 7:24 8:28 9:32 a:38 b:39 c","1:1 2:3 3:4 4:8 5:15 6:20 7:24 8:28 9:32 a:37 b:39 c","0:2 1:3 3:4 4:7 5:10 4:11 5:15 6:20 7:26 8:29 9:32 a:37 b:38 c","0:2 1:3 3:4 4:6 5:16 6:20 7:26 9:29 a:36 b:38 c","0:1 1:2 3:3 4:7 5:14 6:19 7:24 8:27 9:30 a:36 9:37 b:39 c","0:2 1:3 3:5 4:11 5:14 6:18 7:22 8:24 9:27 a:36 b:38 c","0:2 1:3 2:4 3:6 4:14 5:15 6:19 7:22 8:25 9:29 a:37 b:38 c","0:3 2:4 1:6 3:9 4:14 5:16 6:19 7:22 8:25 9:29 a:37 b:39 d"]

// flight pattern and region of the tomography: lon, lat
const hexagon = [[-1.05,1.83],[1.05,1.83],[2.1,0],[1.05,-1.83],[-1.05,-1.83],[-2.1,0]]
const flightAlt = 15
const flightLon = [-2.1, 2.1]
const flightLat = [-1.83, 1.83]

// reconstruction edge: lon, lat
const outlineTop = [[0.01,1.05],[.16,1.2],[.37,1.43],[.62,1.7],[.76,1.94],[.8,2.11],[.97,2.35],[1.15,2.42],[1.18,2.23],[1.18,2.11],[1.33,2.05],[1.33,1.91],[1.18,1.58],[1.18,1.23],[1.11,1.05],[1.01,.81],[.97,.54],[.87,.52],[1.36,.46],[1.57,.4],[2.03,.33],[2.42,.34],[2.67,.25],[2.45,.01],[2.38,-.17],[2.07,-.22],[1.78,-.33],[1.5,-.46],[.9,-.48],[.95,-.58],[1.01,-.85],[1.11,-1.2],[1.11,-1.32],[1.36,-1.65],[1.47,-1.85],[1.56,-2.15],[1.36,-2.06],[1.14,-2.2],[.83,-1.91],[.51,-1.62],[.16,-1.26],[.01,-1.02],[-.23,-1.26],[-.33,-1.5],[-.61,-1.73],[-.9,-2.09],[-1.11,-2.43],[-1.19,-2.18],[-1.28,-1.97],[-1.28,-1.73],[-1.11,-.97],[-.97,-.64],[-.86,-.49],[-1.53,-.46],[-2.02,-.33],[-2.38,-.31],[-2.62,-.28],[-2.66,-.22],[-2.45,.07],[-2.38,.22],[-2.02,.25],[-1.6,.4],[-1.35,.49],[-.86,.52],[-1.11,.9],[-1.11,1.14],[-1.25,1.28],[-1.35,1.73],[-1.46,1.88],[-1.57,2.11],[-1.46,2.22],[-1.25,2.11],[-1.14,2.2],[-.75,1.82],[-.47,1.52],[-.23,1.31],[0.01,1.05]]

// lon, altitude
const outlineLon = [
  [[-2.09,15.04],[-2.48,14.88],[-2.16,14.77],[-1.95,14.72],[-1.67,14.37],[-1.35,13.88],[-1.18,13.48],[-1.04,13.04],[-.9,12.69],[-.83,12.38],[-1.18,12.33],[-1.53,12.15],[-1.81,11.8],[-2.02,11.36],[-2.31,10.91],[-2.45,10.47],[-2.66,9.94],[-2.73,9.58],[-2.87,9.23],[-2.95,8.87],[-2.83,8.61],[-2.45,8.65],[-1.95,8.7],[-1.6,8.61],[-1.14,8.65],[-1.25,7.9],[-1.39,7.46],[-1.53,6.92],[-1.67,6.13],[-1.81,5.51],[-2.09,5.02]],
  [[-1.21,5.02],[-1.11,5.68],[-.97,6.39],[-.86,7.1],[-.68,7.9],[-.51,8.79],[-.4,9.32],[-.23,10.12],[-.01,10.51],[.16,10.2],[.23,9.67],[.41,8.96],[.59,8.08],[.8,7.19],[.97,6.48],[1.11,5.86],[1.22,5.37],[1.18,5.02]],
  [[2,5.06],[1.82,5.42],[1.75,5.95],[1.61,6.48],[1.47,7.19],[1.36,7.72],[1.22,8.25],[1.11,8.61],[1.5,8.65],[2,8.65],[2.56,8.61],[2.88,8.7],[2.93,8.96],[2.77,9.41],[2.49,10.29],[2.14,11],[2,11.36],[1.64,11.89],[1.22,12.24],[.83,12.36],[.97,12.69],[1.29,13.75],[1.57,14.28],[1.85,14.68],[2.28,14.74],[2.45,14.86],[2.14,15.01]],
  [[-1.32,14.86],[-1.11,14.59],[-.83,14.15],[-.47,13.57],[-.16,12.86],[-.01,12.33],[-.05,12.55],[.16,12.86],[.41,13.53],[.66,13.97],[1.01,14.46],[1.29,14.86]]
]

// lat, altitude
const outlineLat = [
  [[-1.95,15.02],[-2.17,14.93],[-2.22,14.8],[-2.09,14.75],[-1.78,14.71],[-1.5,14.44],[-1.28,14.22],[-1.23,14],[-1.39,14.13],[-1.74,14.22],[-2.02,14.17],[-2.18,13.91],[-2.15,13.69],[-1.88,13.2],[-1.6,12.76],[-1.39,12.4],[-1.11,11.78],[-.86,11.07],[-.97,10.71],[-1.18,10.36],[-1.28,9.92],[-1.39,9.65],[-1.6,9.21],[-1.71,8.76],[-1.92,8.23],[-2.09,7.61],[-2.27,6.99],[-2.38,6.46],[-2.52,5.83],[-2.66,5.3],[-2.87,5.04]],
  [[-1.28,5.04],[-1.25,5.66],[-1.11,6.1],[-.97,6.81],[-.86,7.34],[-.65,7.87],[-.58,8.41],[-.44,9.12],[-.3,9.65],[-.16,10.09],[0,10.49],[.23,9.92],[.37,9.21],[.59,8.41],[.73,7.79],[.87,7.25],[.97,6.54],[1.11,6.01],[1.22,5.66],[1.29,5.04]],
  [[2.91,5.04],[2.63,5.21],[2.49,5.66],[2.28,6.63],[2.14,7.25],[1.96,7.96],[1.82,8.41],[1.68,8.94],[1.43,9.56],[1.22,9.92],[1.01,10.54],[.87,10.8],[.83,10.98],[1.08,11.51],[1.36,12.31],[1.64,12.84],[2,13.38],[2.14,13.82],[2.07,14.13],[1.78,14.22],[1.43,14.22],[1.26,14.04],[1.43,14.35],[1.75,14.75],[2.14,14.75],[2.24,14.88],[2.07,15.02],[1.89,15.02]],
  [[-1.14,14.84],[-.9,14.53],[-.61,14.09],[-.47,13.73],[-.23,13.11],[-.01,12.49],[-.08,12.67],[.16,13.02],[.44,13.64],[.66,14.17],[1.11,14.84]]
]

// colour classes
const residualLevels = d3.range(-2.75, 2.76, 0.5)
const residualColors = ['#141a44','#283a8c','#0a55b5','#3585bd','#72abc2','#b5ced2','#efeeee','#e0bdb3','#d28a6f','#c45e38','#9f2020','#7a0a2a','#3c0613']
const errorLevels = d3.range(-2, 2.01, 0.25)
const errorColors = ['#112042','#1f2c70','#1d4a9c','#2a70a5','#3b8fad','#54abb0','#93c4bb','#ccdfd6','#fdf9e4','#fdf9e4','#e8d47e','#cdb93f','#9ea50f','#62920a','#257a1e','#0b6028','#17402a','#171f14']
const spectralAnchors = ['#5e4fa2','#3288bd','#66c2a5','#abdda4','#e6f598','#ffffbf','#fee08b','#fdae61','#f46d43','#d53e4f','#9e0142']
const spectral = d3.piecewise(d3.interpolateRgb, spectralAnchors)
const sampleSpectral = (n) => d3.range(n).map((i) => spectral(i / (n - 1)))
const directionColors = ['#5e4fa2','#4a6ab1','#3288bd','#4fa5b2','#70c6a7','#a5dba4','#e9f59d','#fff5ad','#fee08b','#fdb768','#f97f4c','#e8584a','#c9304c','#b2184b','#9e0142']

const hWaveLevels = d3.range(357.5, 443, 5)
const vWaveLevels = d3.range(5.575, 6.43, 0.05)
const ampLevels = d3.range(2.475, 3.03, 0.05)
const dirLevels = d3.range(163.75, 196.3, 2.5)

// plane icons, relative to the middle of the fuselage
const planeHalf = [[60.5,0],[18,-4],[9,-21],[-5,-40],[-25.6,-50],[-16,-42],[-8,-17],[-6,-11.5],[-10,-11.5],[-34,-11.5],[-34,-2.5],[-43,-3],[-50,-15],[-60,-16],[-55,-4],[-55,0]]
const planeTop = planeHalf.concat(planeHalf.slice(1, -1).reverse().map((p) => [p[0], -p[1]]))
const planeSide = [[-36,-2],[-31,-4],[17,-4],[27,-19],[36,-19],[29.5,-11],[27,-1],[9.6,4],[0,11],[-2,7],[-29,7],[-30,11],[-31,7],[-36,2]]

const svg = d3.select('#fig')

const parseRow = (row, n) => {
  if (row.indexOf(':') < 0 && row.replace(/ /g, '').length > 1) {
    return row.replace(/ /g, '').split('').map((ch) => parseInt(ch, 36))
  }
  const out = []
  row.split(' ').forEach((tok) => {
    const [ch, end] = tok.split(':')
    const stop = end === undefined ? n : +end
    while (out.length < stop) out.push(parseInt(ch, 36))
  })
  return out
}

const classValue = (levels, i) => {
  if (i === 0) return levels[0] - 1
  if (i >= levels.length) return levels[levels.length - 1] + 1
  return (levels[i - 1] + levels[i]) / 2
}

let clipCount = 0
const createPanel = (box, xDomain, yDomain) => {
  const x = d3.scaleLinear().domain(xDomain).range([box.left, box.right])
  const y = d3.scaleLinear().domain(yDomain).range([box.bottom, box.top])
  const id = 'clip' + (clipCount++)
  svg.append('clipPath').attr('id', id).append('rect')
    .attr('x', box.left).attr('y', box.top)
    .attr('width', box.right - box.left).attr('height', box.bottom - box.top)
  const inner = svg.append('g').attr('clip-path', 'url(#' + id + ')')
  return {box, x, y, inner}
}

// rows of cells between the given edges, classes go through a threshold scale
const drawCells = (panel, rows, xEdge0, xEdge1, yEdges, levels, colors) => {
  const color = d3.scaleThreshold().domain(levels).range(colors)
  const nCols = d3.max(rows, (r) => r.length)
  const cols = d3.scaleLinear().domain([0, nCols]).range([xEdge0, xEdge1])
  const cells = []
  rows.forEach((row, r) => {
    // merge neighbouring cells with the same class
    let start = 0
    for (let c = 1; c <= nCols; c++) {
      if (c === nCols || row[c] !== row[start]) {
        cells.push({r, c0: start, c1: c, v: classValue(levels, row[start])})
        start = c
      }
    }
  })
  panel.inner.append('g').attr('class', 'cells').attr('shape-rendering', 'crispEdges')
    .selectAll('rect').data(cells).join('rect')
    .attr('x', (d) => panel.x(cols(d.c0)))
    .attr('width', (d) => panel.x(cols(d.c1)) - panel.x(cols(d.c0)) + 0.6)
    .attr('y', (d) => panel.y(yEdges[d.r]))
    .attr('height', (d) => panel.y(yEdges[d.r + 1]) - panel.y(yEdges[d.r]) + 0.6)
    .attr('fill', (d) => color(d.v))
}

const gridField = (panel, field, levels, colors) => {
  const n = field.length
  const rows = field.map((r) => parseRow(r, 40))
  const [y0, y1] = panel.y.domain().slice().reverse()
  const yEdges = d3.range(n + 1).map((i) => y0 + (y1 - y0) * i / n)
  const [x0, x1] = panel.x.domain()
  drawCells(panel, rows, x0, x1, yEdges, levels, colors)
}

const drawOutline = (panel, paths, width) => {
  const line = d3.line().x((d) => panel.x(d[0])).y((d) => panel.y(d[1]))
  panel.inner.append('g').selectAll('path').data(paths).join('path')
    .attr('d', line).attr('fill', 'none').attr('stroke', '#000')
    .attr('stroke-width', width).attr('stroke-dasharray', '12 7')
}

const drawHexagon = (panel) => {
  const line = d3.line().x((d) => panel.x(d[0])).y((d) => panel.y(d[1])).curve(d3.curveLinearClosed)
  const g = panel.inner.append('g').attr('fill', 'none').attr('stroke-linejoin', 'round')
  g.append('path').attr('d', line(hexagon)).attr('stroke', '#e4e4e4').attr('stroke-width', 8)
  g.append('path').attr('d', line(hexagon)).attr('stroke', '#808080').attr('stroke-width', 5)
}

const drawFlightLine = (panel, ends) => {
  const g = panel.inner.append('g').attr('stroke-linecap', 'round')
  const seg = (sel) => sel.attr('x1', panel.x(ends[0])).attr('x2', panel.x(ends[1]))
    .attr('y1', panel.y(flightAlt)).attr('y2', panel.y(flightAlt))
  seg(g.append('line')).attr('stroke', '#e4e4e4').attr('stroke-width', 8)
  seg(g.append('line')).attr('stroke', '#808080').attr('stroke-width', 5)
}

const drawPlane = (panel, points, cx, cy, scale, fill) => {
  panel.inner.append('path')
    .attr('d', 'M' + points.map((p) => p.join(',')).join('L') + 'Z')
    .attr('transform', 'translate(' + cx + ',' + cy + ') scale(' + scale + ')')
    .attr('fill', fill).attr('stroke', '#fff').attr('stroke-width', 0.7 / scale)
}

const letterBox = (panel, letter, gapRight, gapTop, height) => {
  const g = svg.append('g')
  const rect = g.append('rect').attr('fill', '#fff').attr('rx', 4)
  const text = g.append('text').attr('font-size', 36).attr('text-anchor', 'middle').text(letter)
  const w = text.node().getComputedTextLength() + 36
  const left = panel.box.right - gapRight - w
  rect.attr('x', left).attr('y', panel.box.top + gapTop).attr('width', w).attr('height', height)
  text.attr('x', left + w / 2).attr('y', panel.box.top + gapTop + height / 2 + 12)
}

const spine = (panel) => {
  const b = panel.box
  svg.append('rect').attr('x', b.left).attr('y', b.top)
    .attr('width', b.right - b.left).attr('height', b.bottom - b.top)
    .attr('fill', 'none').attr('stroke', '#000').attr('stroke-width', 2)
}

const styleAxis = (g, size) => {
  g.select('.domain').remove()
  g.selectAll('line').attr('stroke', '#000').attr('stroke-width', 2)
  g.selectAll('text').attr('font-size', size)
}

const bottomTicks = (panel, values, labels, shift) => {
  const g = svg.append('g').attr('transform', 'translate(0,' + panel.box.bottom + ')')
    .call(d3.axisBottom(panel.x).tickValues(values).tickSize(8).tickFormat((d, i) => labels[i]))
  styleAxis(g, 37)
  g.selectAll('text').attr('x', 0).attr('y', 0).attr('dy', '.35em').attr('text-anchor', 'middle')
    .attr('transform', 'translate(0,' + shift + ') rotate(-60)')
}

const leftTicks = (panel, values, labels) => {
  const g = svg.append('g').attr('transform', 'translate(' + panel.box.left + ',0)')
    .call(d3.axisLeft(panel.y).tickValues(values).tickSize(8).tickPadding(7).tickFormat((d, i) => labels ? labels[i] : ''))
  styleAxis(g, 36.5)
}

const addText = (x, y, str, size, rotate, weight) => {
  const t = svg.append('text').attr('font-size', size).attr('text-anchor', 'middle')
    .attr('transform', 'translate(' + x + ',' + y + ')' + (rotate ? ' rotate(' + rotate + ')' : ''))
  if (weight) t.attr('font-weight', weight)
  // the degree sign sits loose in the bold side labels
  str.split('|').forEach((part, i) => t.append('tspan').attr('dx', i ? 11 : 0).text(part))
}

const drawColorbar = (box, levels, colors, ticks, format, fontSize, tipHeight) => {
  const y = d3.scaleLinear().domain([levels[0], levels[levels.length - 1]]).range([box.bottom, box.top])
  const g = svg.append('g')
  g.append('g').attr('shape-rendering', 'crispEdges').selectAll('rect').data(d3.range(levels.length - 1)).join('rect')
    .attr('x', box.left).attr('width', box.right - box.left)
    .attr('y', (i) => y(levels[i + 1]))
    .attr('height', (i) => y(levels[i]) - y(levels[i + 1]) + 0.5)
    .attr('fill', (i) => colors[i + 1])
  const mid = (box.left + box.right) / 2
  const tip = (yBase, yEnd, fill) => g.append('path')
    .attr('d', 'M' + box.left + ',' + yBase + 'L' + mid + ',' + yEnd + 'L' + box.right + ',' + yBase + 'Z')
    .attr('fill', fill)
  tip(box.top, box.top - tipHeight, colors[colors.length - 1])
  tip(box.bottom, box.bottom + tipHeight, colors[0])
  g.append('path')
    .attr('d', 'M' + box.left + ',' + box.top + 'L' + mid + ',' + (box.top - tipHeight) + 'L' + box.right + ',' + box.top +
      'L' + box.right + ',' + box.bottom + 'L' + mid + ',' + (box.bottom + tipHeight) + 'L' + box.left + ',' + box.bottom + 'Z')
    .attr('fill', 'none').attr('stroke', '#000').attr('stroke-width', 2)
  const axis = svg.append('g').attr('transform', 'translate(' + box.right + ',0)')
    .call(d3.axisRight(y).tickValues(ticks).tickSize(8).tickPadding(9).tickFormat(format))
  styleAxis(axis, fontSize)
}

/**
* Top block: the three cuts
**/

const topColumns = [{left: 208, right: 647}, {left: 690, right: 1127.5}, {left: 1377, right: 1837.5}]
const topRows = [{top: 55, bottom: 450}, {top: 567, bottom: 962}, {top: 1080, bottom: 1475}]
const lonTicks = [-3, -2, -1, 0, 1, 2, 3]
const lonLabels = ['3° W', '2° W', '1° W', '0° E', '1° E', '2° E', '3° E']
const latTicks = [-2.5, 0, 2.5]
const latLabels = ['2.5° S', '0.0° N', '2.5° N']
const altTicks = [5, 7.5, 10, 12.5, 15]
const altLabels = ['5.0', '7.5', '10.0', '12.5', '15.0']
const topLetters = [['a', 'b', 'c'], ['d', 'e', 'f'], ['g', 'h', 'i']]

const topFields = [
  [null, null, null],
  [fieldD, fieldE, fieldF],
  [fieldG, fieldH, fieldI]
]

topColumns.forEach((col, ci) => {
  topRows.forEach((row, ri) => {
    const box = {left: col.left, right: col.right, top: row.top, bottom: row.bottom}
    const panel = ri === 0 ? createPanel(box, [-3.5, 3.5], [-3.5, 3.5]) : createPanel(box, [-3.5, 3.5], [5, 15.5])
    const levels = ci === 2 ? errorLevels : residualLevels
    const colors = ci === 2 ? errorColors : residualColors

    if (ci === 0 && ri === 0) {
      const rows = fieldA.map((ch) => [parseInt(ch, 36)])
      const edges = d3.range(fieldA.length + 1).map((i) => 3.5625 - i * 0.125)
      drawCells(panel, rows, -3.5, 3.5, edges, levels, colors)
    } else if (ci === 0 && ri === 1) {
      drawCells(panel, bandClassB.map((ch) => [parseInt(ch, 36)]), -3.5, 3.5, bandEdgesB, levels, colors)
    } else if (ci === 0 && ri === 2) {
      const rows = d3.range(49).map((r) => d3.range(57).map((c) => parseInt(profileC[48 + c - r], 36)))
      const edges = d3.range(50).map((i) => 15.61 - i * 0.22)
      drawCells(panel, rows, -3.5625, 3.5625, edges, levels, colors)
    } else {
      gridField(panel, topFields[ci][ri], levels, colors)
    }

    if (ci > 0) {
      const mid = (col.left + col.right) / 2
      if (ri === 0) {
        drawOutline(panel, [outlineTop], 3)
        panel.inner.append('circle').attr('cx', panel.x(0)).attr('cy', panel.y(0)).attr('r', 3.5).attr('fill', '#000')
        drawHexagon(panel)
        drawPlane(panel, planeTop, mid, panel.y(1.83) - 2, 0.7, '#333')
      } else if (ri === 1) {
        drawOutline(panel, outlineLon, 4)
        drawFlightLine(panel, flightLon)
        drawPlane(panel, planeSide, mid, panel.y(flightAlt), 1, '#000')
      } else {
        drawOutline(panel, outlineLat, 3.5)
        drawFlightLine(panel, flightLat)
        drawPlane(panel, planeSide, mid, panel.y(flightAlt), 1, '#000')
      }
    }
    letterBox(panel, topLetters[ci][ri], 10, 9, 44)
    spine(panel)

    if (ri < 2) bottomTicks(panel, lonTicks, lonLabels, 50)
    else bottomTicks(panel, latTicks, latLabels, 65)

    if (ci < 2) {
      if (ri === 0) leftTicks(panel, [-2, 0, 2], ci === 0 ? ['2.0°S', '0.0°N', '2.0°N'] : null)
      else leftTicks(panel, altTicks, ci === 0 ? altLabels : null)
    } else {
      if (ri === 0) leftTicks(panel, [-2, 0, 2], null)
      else leftTicks(panel, altTicks, null)
    }
  })
})

addText(414, 42, 'True wave', 47)
addText(888, 42, 'Retrieved wave', 47)
addText(1590, 42, 'True - retrieved', 47)
addText(40, 298, 'Cut @ 10.5 km', 38, -90, 'bold')
addText(40, 763, 'Cut @ 0.0|°|N', 38, -90, 'bold')
addText(40, 1282, 'Cut @ 0.0|°|E', 38, -90, 'bold')
addText(97, 785, 'Altitude / km', 38.5, -90)
addText(97, 1300, 'Altitude / km', 38.5, -90)

drawColorbar({left: 1169, right: 1200, top: 118.6, bottom: 1410.7}, residualLevels, residualColors, [-2, -1, 0, 1, 2], d3.format('d'), 35, 66)
addText(1309, 796, 'Temperature residual / K', 38.5, -90)
drawColorbar({left: 1879, right: 1910, top: 118.6, bottom: 1410.7}, errorLevels, errorColors, d3.range(-2, 2.01, 0.5), d3.format('.1f'), 35, 66)
addText(2050, 792, 'Temperature error / K', 38.5, -90)

/**
* Bottom block: wave parameters
**/

const mapColumns = [{left: 427, right: 925.5, barLeft: 935, barRight: 960}, {left: 1128, right: 1626, barLeft: 1635, barRight: 1661}]
const mapRows = [{top: 1681, bottom: 2179}, {top: 2278, bottom: 2776.5}]
const mapTicks = [-2, -1, 0, 1, 2]
const mapLatLabels = ['2° S', '1° S', '0°', '1° N', '2° N']
const mapLonLabels = ['2° W', '1° W', '0°', '1° E', '2° E']

const mapPanels = [
  {c: 0, r: 0, field: fieldJ, letter: 'j', levels: hWaveLevels, colors: sampleSpectral(19), ticks: d3.range(360, 441, 10), format: d3.format('d')},
  {c: 1, r: 0, field: fieldL, letter: 'l', levels: ampLevels, colors: sampleSpectral(13), ticks: d3.range(2.5, 3.01, 0.1), format: d3.format('.1f')},
  {c: 0, r: 1, field: fieldK, letter: 'k', levels: vWaveLevels, colors: sampleSpectral(19), ticks: d3.range(5.6, 6.41, 0.1), format: d3.format('.1f')},
  {c: 1, r: 1, field: fieldM, letter: 'm', levels: dirLevels, colors: directionColors, ticks: d3.range(165, 196, 5), format: d3.format('d')}
]

mapPanels.forEach((p) => {
  const col = mapColumns[p.c]
  const row = mapRows[p.r]
  const box = {left: col.left, right: col.right, top: row.top, bottom: row.bottom}
  const panel = createPanel(box, [-2.48, 2.48], [-2.48, 2.48])
  gridField(panel, p.field, p.levels, p.colors)

  // graticule and labels come from the axes
  const gx = svg.append('g').attr('transform', 'translate(0,' + box.bottom + ')')
    .call(d3.axisBottom(panel.x).tickValues(mapTicks).tickSize(-(box.bottom - box.top))
      .tickFormat((d, i) => (p.r === 1 ? mapLonLabels[i] : '')))
  const gy = svg.append('g').attr('transform', 'translate(' + box.left + ',0)')
    .call(d3.axisLeft(panel.y).tickValues(mapTicks).tickSize(-(box.right - box.left)).tickPadding(12)
      .tickFormat((d, i) => (p.c === 0 ? mapLatLabels[i] : '')))
  styleAxis(gy, 39)
  styleAxis(gx, 41)
  ;[gx, gy].forEach((g) => {
    g.selectAll('line').attr('stroke-width', 2.5).attr('stroke-dasharray', '3 5')
  })
  gx.selectAll('text').attr('x', 0).attr('y', 0).attr('dy', '.35em').attr('text-anchor', 'middle')
    .attr('transform', 'translate(-2,38) rotate(-35)')

  const hex = createPanel(box, [-2.48, 2.48], [-2.48, 2.48])
  drawHexagon(hex)
  drawPlane(hex, planeTop, (box.left + box.right) / 2, hex.y(1.83) - 2, 1, '#333')
  letterBox(panel, p.letter, 12, 11.5, 45)
  spine(panel)

  drawColorbar({left: col.barLeft, right: col.barRight, top: row.top + 23, bottom: row.bottom - 23},
    p.levels, p.colors, p.ticks, p.format, 35, 23)
})

addText(643, 1666, 'Horizontal wavelength', 46.5)
addText(1360, 1666, 'Amplitude', 46.5)
addText(645, 2262, 'Vertical wavelength', 46.5)
addText(1363, 2262, 'Direction', 46.5)
addText(1081, 1950, 'Wavelength / km', 38, -90)
addText(1768, 1955, 'Temperature / K', 38, -90)
addText(1068, 2547, 'Wavelength / km', 38, -90)
addText(1780, 2550, 'Direction / degree', 38, -90)
</script>
</body>
</html>
